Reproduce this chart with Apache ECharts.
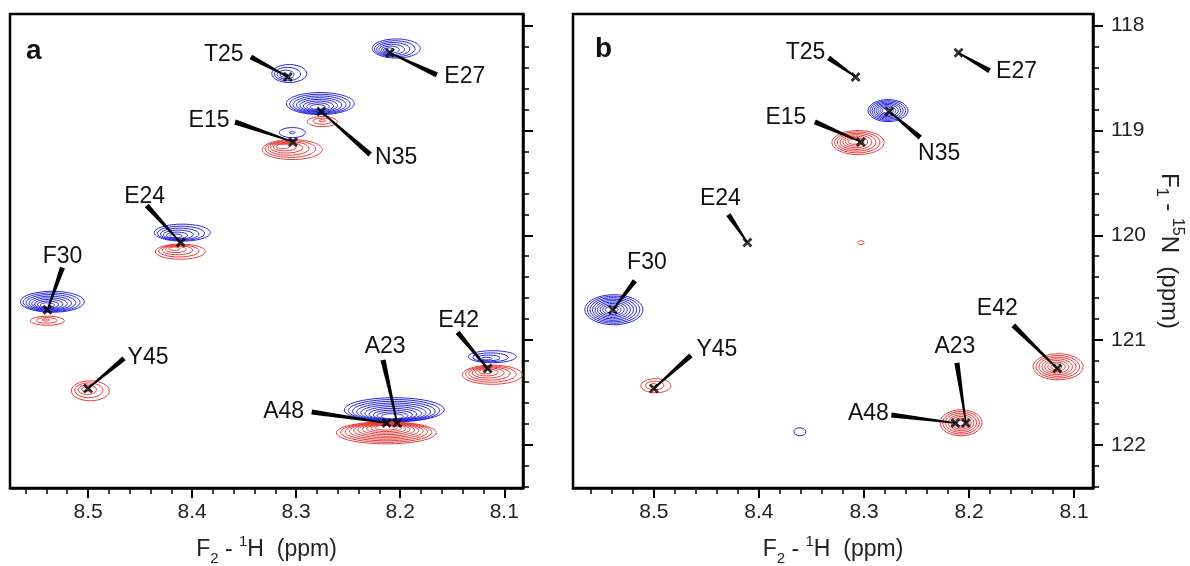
<!DOCTYPE html>
<html>
<head>
<meta charset="utf-8">
<script src="https://cdn.jsdelivr.net/npm/echarts@6/dist/echarts.min.js"></script>
<style>
html,body{margin:0;padding:0;background:#fff}
#chart{width:1190px;height:566px}
</style>
</head>
<body>
<div id="chart"></div>
<script>
// assigned peaks (marker positions, ppm)
var peakNames = ['T25','E27','N35','E15','E24','F30','Y45','E42','A23','A48'];
var peakH = [8.308, 8.210, 8.276, 8.303, 8.411, 8.539, 8.500, 8.116, 8.203, 8.213];
var peakN = [118.49, 118.26, 118.82, 119.11, 120.07, 120.71, 121.46, 121.27, 121.79, 121.79];

// axis ticks
var hMajor = [8.1, 8.2, 8.3, 8.4, 8.5];
var hMinor = [8.12, 8.14, 8.16, 8.18, 8.22, 8.24, 8.26, 8.28, 8.32, 8.34, 8.36, 8.38, 8.42, 8.44, 8.46, 8.48, 8.52, 8.54, 8.56];
var nMajor = [118, 119, 120, 121, 122];
var nMinor = [118.2, 118.4, 118.6, 118.8, 119.2, 119.4, 119.6, 119.8, 120.2, 120.4, 120.6, 120.8, 121.2, 121.4, 121.6, 121.8, 122.2, 122.4];

// contour peaks, panel a: centre (1H,15N), half widths (ppm), levels, sign (+1 blue / -1 red),
// skew of the inner levels (fraction of the half width, + = towards higher 1H ppm / higher 15N ppm)
var aH     = [8.3066, 8.2038, 8.2768, 8.2749, 8.3037, 8.3037, 8.4094, 8.4113, 8.5343, 8.5391, 8.4978, 8.2057, 8.2134, 8.1115, 8.1115];
var aN     = [118.458, 118.219, 118.744, 118.916, 119.021, 119.183, 119.975, 120.156, 120.634, 120.815, 121.483, 121.664, 121.884, 121.158, 121.330];
var aWH    = [0.0168, 0.0231, 0.0327, 0.0144, 0.0125, 0.0288, 0.0269, 0.0240, 0.0307, 0.0163, 0.0183, 0.0480, 0.0480, 0.0231, 0.0288];
var aWN    = [0.086, 0.091, 0.105, 0.048, 0.048, 0.095, 0.081, 0.072, 0.100, 0.043, 0.095, 0.115, 0.105, 0.057, 0.091];
var aLev   = [4, 6, 8, 3, 2, 6, 6, 5, 8, 3, 4, 10, 10, 4, 6];
var aSign  = [1, 1, 1, -1, 1, -1, 1, -1, 1, -1, -1, 1, -1, 1, -1];
var aSkewH = [0.4, 0.4, 0.1, 0, 0, 0.4, 0.3, 0.3, 0.2, 0.1, 0.3, 0.05, 0, 0.3, 0.3];
var aSkewN = [0.2, 0.2, 0.4, -0.2, 0, -0.4, 0.5, -0.5, 0.4, -0.2, -0.2, 0.7, -0.6, 0.4, -0.4];

// contour peaks, panel b
var bH     = [8.2771, 8.3057, 8.3029, 8.5381, 8.4981, 8.3610, 8.2076, 8.1152];
var bN     = [118.811, 119.116, 120.071, 120.710, 121.435, 121.874, 121.788, 121.254];
var bWH    = [0.0190, 0.0248, 0.0030, 0.0276, 0.0143, 0.0057, 0.0200, 0.0238];
var bWN    = [0.105, 0.115, 0.019, 0.143, 0.067, 0.038, 0.124, 0.124];
var bLev   = [8, 7, 1, 9, 3, 1, 7, 7];
var bSign  = [1, -1, -1, 1, -1, 1, -1, -1];
var bSkewH = [0.1, 0.2, 0, 0.1, 0.2, 0, 0, 0.1];
var bSkewN = [0, -0.1, 0, 0, -0.1, 0, 0, 0];

var FONT = '"Liberation Sans", Arial, Helvetica, sans-serif';
var BLUE = '#2626d6';
var RED = '#e43b3b';

// label layout in px relative to marker: [leader end dx, dy, text dx, dy]
var layoutA = [[-37,-20,-64,-22],[47,22,75,24],[49,43,75,46],[-58,-20,-84,-21],[-34,-37,-36,-46],
               [15,-42,15,-53],[36,-30,60,-31],[-30,-36,-29,-48],[-14,-63,-12,-76],[-75,-11,-103,-11]];
var layoutB = [[-27,-19,-50,-24],[31,18,58,19],[31,26,50,42],[-46,-20,-75,-24],[-19,-28,-27,-44],
               [22,-29,34,-47],[37,-33,63,-39],[-44,-43,-60,-60],[-9,-60,-11,-76],[-64,-8,-87,-9]];

var dom = document.getElementById('chart');
var myChart = echarts.init(dom);

var peakData = peakH.map(function(h, i){ return [h, peakN[i], i]; });
function blobData(H, N, WH, WN, L, S, KH, KN){
	return H.map(function(h, i){ return [h, N[i], WH[i], WN[i], L[i], S[i], KH[i], KN[i]]; });
}

function renderBlob(params, api){
	var c = api.coord([api.value(0), api.value(1)]);
	var sz = api.size([api.value(2), api.value(3)]);
	var n = api.value(4), sign = api.value(5);
	// both axes are inverted: higher ppm = left / down
	var kx = -api.value(6), ky = api.value(7);
	var kids = [];
	for (var i = 0; i < n; i++) {
		var s = n == 1 ? 1 : 0.22 + 0.78 * i / (n - 1);
		kids.push({
			type: 'ellipse',
			shape: {cx: c[0] + kx * sz[0] * (1 - s), cy: c[1] + ky * sz[1] * (1 - s), rx: sz[0] * s, ry: sz[1] * s},
			style: {fill: null, stroke: sign > 0 ? BLUE : RED, lineWidth: 1}
		});
	}
	return {type: 'group', children: kids};
}

function labelRenderer(layout){
	return function(params, api){
		var p = api.coord([api.value(0), api.value(1)]);
		var L = layout[params.dataIndex];
		var ex = p[0] + L[0], ey = p[1] + L[1];
		var dx = p[0] - ex, dy = p[1] - ey, len = Math.sqrt(dx*dx + dy*dy);
		var nx = -dy / len, ny = dx / len;
		var w1 = 2.6, w2 = 0.7;
		return {type: 'group', children: [
			{type: 'polygon', shape: {points: [[ex + nx*w1, ey + ny*w1], [p[0] + nx*w2, p[1] + ny*w2],
				[p[0] - nx*w2, p[1] - ny*w2], [ex - nx*w1, ey - ny*w1]]}, style: {fill: '#000'}},
			{type: 'text', x: p[0] + L[2], y: p[1] + L[3], style: {text: peakNames[api.value(2)],
				fill: '#111', fontSize: 23, fontFamily: FONT, align: 'center', verticalAlign: 'middle'}}
		]};
	};
}

var nameRich = {
	m: {fontSize: 23, fontFamily: FONT, color: '#222', lineHeight: 32},
	sub: {fontSize: 15, fontFamily: FONT, color: '#222', lineHeight: 14, verticalAlign: 'bottom'},
	sup: {fontSize: 15, fontFamily: FONT, color: '#222', lineHeight: 24, verticalAlign: 'top'}
};
var nameRichV = {
	m: {fontSize: 24, fontFamily: FONT, color: '#222', lineHeight: 32},
	sub: {fontSize: 16, fontFamily: FONT, color: '#222', lineHeight: 14, verticalAlign: 'bottom'},
	sup: {fontSize: 16, fontFamily: FONT, color: '#222', lineHeight: 24, verticalAlign: 'top'}
};

function xAxes(gi, range){
	return [{
		type: 'value', gridIndex: gi, min: range[0], max: range[1], inverse: true, position: 'bottom',
		axisLine: {show: true, lineStyle: {color: '#000', width: 2.5}},
		axisTick: {show: true, length: 10, lineStyle: {color: '#000', width: 2}, customValues: hMajor},
		axisLabel: {show: true, margin: 14, fontSize: 21, fontFamily: FONT, color: '#222', customValues: hMajor,
			formatter: function(v){ return v.toFixed(1); }},
		splitLine: {show: false},
		name: '{m|F}{sub|2}{m| - }{sup|1}{m|H  (ppm)}', nameLocation: 'middle', nameGap: 46,
		nameTextStyle: {rich: nameRich}
	}, {
		type: 'value', gridIndex: gi, min: range[0], max: range[1], inverse: true, position: 'bottom',
		axisLine: {show: false},
		axisTick: {show: true, length: 6, lineStyle: {color: '#000', width: 1.5}, customValues: hMinor},
		axisLabel: {show: false},
		splitLine: {show: false}
	}];
}

function yAxes(gi, withLabels){
	var ax = {
		type: 'value', gridIndex: gi, min: 117.89, max: 122.41, inverse: true, position: 'right',
		axisLine: {show: true, lineStyle: {color: '#000', width: 2.5}},
		axisTick: {show: true, length: 10, lineStyle: {color: '#000', width: 2}, customValues: nMajor},
		axisLabel: {show: withLabels, margin: 18, fontSize: 21, fontFamily: FONT, color: '#222', customValues: nMajor},
		splitLine: {show: false}
	};
	if (withLabels) {
		ax.name = '{m|F}{sub|1}{m| - }{sup|15}{m|N  (ppm)}';
		ax.nameLocation = 'middle';
		ax.nameRotate = -90;
		ax.nameGap = 60;
		ax.nameTextStyle = {rich: nameRichV};
	}
	return [ax, {
		type: 'value', gridIndex: gi, min: 117.89, max: 122.41, inverse: true, position: 'right',
		axisLine: {show: false},
		axisTick: {show: true, length: 6, lineStyle: {color: '#000', width: 1.5}, customValues: nMinor},
		axisLabel: {show: false},
		splitLine: {show: false}
	}];
}

var markerPath = 'path://M2,0L5,3L8,0L10,2L7,5L10,8L8,10L5,7L2,10L0,8L3,5L0,2Z';

var option = {
	animation: false,
	title: [
		{text: 'a', left: 26, top: 37, padding: 0, textStyle: {fontSize: 28, fontWeight: 'bold', fontFamily: FONT, color: '#111'}},
		{text: 'b', left: 595, top: 35, padding: 0, textStyle: {fontSize: 28, fontWeight: 'bold', fontFamily: FONT, color: '#111'}}
	],
	grid: [
		{left: 10, top: 14, width: 513, height: 474, show: true, borderColor: '#000', borderWidth: 2.5, outerBoundsMode: 'none'},
		{left: 573, top: 14, width: 520, height: 474, show: true, borderColor: '#000', borderWidth: 2.5, outerBoundsMode: 'none'}
	],
	xAxis: xAxes(0, [8.082, 8.575]).concat(xAxes(1, [8.082, 8.577])),
	yAxis: yAxes(0, false).concat(yAxes(1, true)),
	series: [
		{type: 'custom', xAxisIndex: 0, yAxisIndex: 0, z: 2, silent: true,
			data: blobData(aH, aN, aWH, aWN, aLev, aSign, aSkewH, aSkewN), renderItem: renderBlob},
		{type: 'custom', xAxisIndex: 2, yAxisIndex: 2, z: 2, silent: true,
			data: blobData(bH, bN, bWH, bWN, bLev, bSign, bSkewH, bSkewN), renderItem: renderBlob},
		{type: 'custom', xAxisIndex: 0, yAxisIndex: 0, z: 3, silent: true, clip: false,
			data: peakData, renderItem: labelRenderer(layoutA)},
		{type: 'custom', xAxisIndex: 2, yAxisIndex: 2, z: 3, silent: true, clip: false,
			data: peakData, renderItem: labelRenderer(layoutB)},
		{type: 'scatter', xAxisIndex: 0, yAxisIndex: 0, z: 4, silent: true, symbol: markerPath, symbolSize: 10,
			itemStyle: {color: '#000'}, data: peakData},
		{type: 'scatter', xAxisIndex: 2, yAxisIndex: 2, z: 4, silent: true, symbol: markerPath, symbolSize: 10,
			itemStyle: {color: '#000'}, data: peakData}
	]
};
myChart.setOption(option);
</script>
</body>
</html>
